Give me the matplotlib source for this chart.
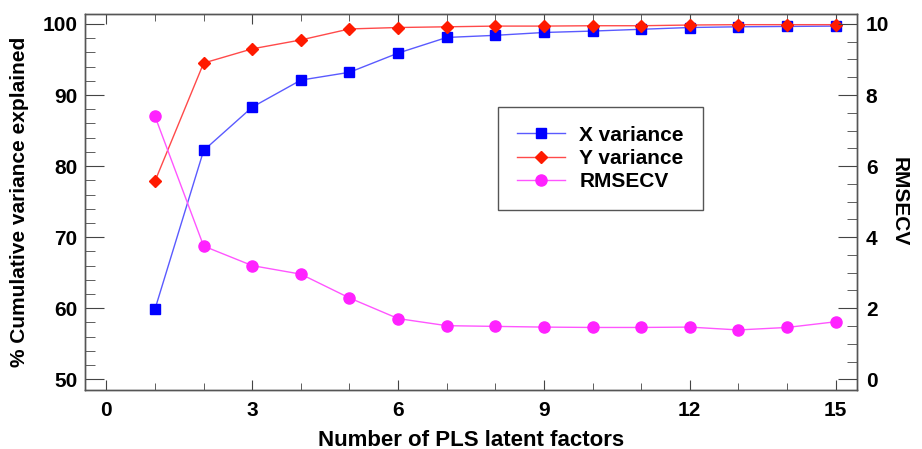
import numpy as np
import matplotlib
matplotlib.use("Agg")
import matplotlib.pyplot as plt
from matplotlib.ticker import MultipleLocator

plt.rcParams['font.family'] = ['Liberation Sans', 'DejaVu Sans']
plt.rcParams['font.weight'] = 'bold'

factors = np.arange(1, 16)
x_variance = [59.9, 82.2, 88.3, 92.1, 93.2, 95.9, 98.1, 98.4, 98.8, 99.0, 99.25, 99.5, 99.6, 99.65, 99.7]
y_variance = [77.9, 94.5, 96.5, 97.75, 99.3, 99.5, 99.6, 99.7, 99.7, 99.75, 99.75, 99.85, 99.9, 99.9, 99.9]
rmsecv = [7.4, 3.75, 3.2, 2.96, 2.29, 1.71, 1.51, 1.49, 1.47, 1.46, 1.46, 1.47, 1.39, 1.46, 1.62]

fig = plt.figure(figsize=(9.22, 4.49), dpi=100)
ax = fig.add_axes([0.0917, 0.1314, 0.8383, 0.8374])
ax2 = ax.twinx()

# left axis: cumulative variance
l1, = ax.plot(factors, x_variance, color='#5a5aff', lw=1, marker='s', ms=7,
              mfc='#0000ff', mec='#0000ff', label='X variance')
l2, = ax.plot(factors, y_variance, color='#ff4a4a', lw=1, marker='D', ms=6.5,
              mfc='#ff1a00', mec='#ff1a00', label='Y variance')
# right axis: RMSECV
l3, = ax2.plot(factors, rmsecv, color='#ff55ff', lw=1, marker='o', ms=8,
               mfc='#ff22ff', mec='#ff22ff', label='RMSECV')

ax.set_xlim(-0.45, 15.45)
ax.set_ylim(48.5, 101.4)
ax2.set_ylim(-0.3, 10.28)

ax.xaxis.set_major_locator(MultipleLocator(3))
ax.xaxis.set_minor_locator(MultipleLocator(1))
ax.yaxis.set_major_locator(MultipleLocator(10))
ax.yaxis.set_minor_locator(MultipleLocator(2))
ax2.yaxis.set_major_locator(MultipleLocator(2))
ax2.yaxis.set_minor_locator(MultipleLocator(0.5))

ax.tick_params(axis='x', which='both', direction='in', top=True, labelsize=15, pad=8, color='#444')
ax.tick_params(axis='x', which='major', length=7)
ax.tick_params(axis='x', which='minor', length=5)
ax.tick_params(axis='y', which='both', direction='in', labelsize=15, pad=5, color='#444')
ax.tick_params(axis='y', which='major', length=14)
ax.tick_params(axis='y', which='minor', length=7)
ax2.tick_params(axis='y', which='both', direction='in', labelsize=15, pad=6, color='#444')
ax2.tick_params(axis='y', which='major', length=14)
ax2.tick_params(axis='y', which='minor', length=7)

for a in (ax, ax2):
    for s in a.spines.values():
        s.set_color('#555555')
        s.set_linewidth(1)

ax.set_xlabel('Number of PLS latent factors', fontsize=16, fontweight='bold', labelpad=7)
ax.set_ylabel('% Cumulative variance explained', fontsize=15, fontweight='bold', labelpad=10)
ax2.set_ylabel('RMSECV', fontsize=15, fontweight='bold', rotation=270, labelpad=14)

leg = ax2.legend(handles=[l1, l2, l3], loc='upper left',
                 bbox_to_anchor=(498 / 922, 1 - 107 / 449), bbox_transform=fig.transFigure,
                 borderaxespad=0, fancybox=False, framealpha=1, edgecolor='#555555',
                 prop={'size': 15, 'weight': 'bold'}, handlelength=2.3,
                 borderpad=0.9, labelspacing=0.2, handletextpad=0.7)
leg.get_frame().set_linewidth(1)

fig.savefig('out.png', dpi=100)
